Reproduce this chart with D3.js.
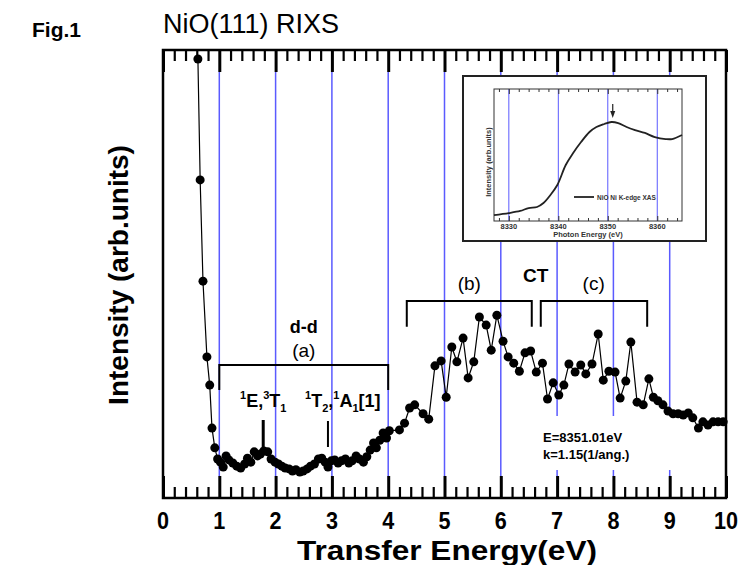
<!DOCTYPE html>
<html>
<head>
<meta charset="utf-8">
<script src="https://cdn.jsdelivr.net/npm/d3@7"></script>
<style>
  body { margin: 0; background: #fff; }
  text { font-family: "Liberation Sans", Arial, sans-serif; }
</style>
</head>
<body>
<div id="chart"></div>
<script>
// RIXS spectrum, transfer energy (eV) vs intensity (arb. units)
var energy = [0.62, 0.66, 0.71, 0.78, 0.83, 0.87, 0.92, 0.97, 1.02, 1.07, 1.12, 1.17, 1.24, 1.31, 1.38, 1.45, 1.50, 1.56, 1.62, 1.68,
    1.73, 1.79, 1.86, 1.92, 1.99, 2.05, 2.11, 2.17, 2.24, 2.30, 2.36, 2.43, 2.49, 2.56, 2.62, 2.69, 2.76, 2.82, 2.88, 2.93,
    2.99, 3.05, 3.11, 3.17, 3.24, 3.30, 3.36, 3.43, 3.49, 3.56, 3.62, 3.68, 3.74, 3.79, 3.85, 3.91, 3.97, 4.02, 4.20, 4.29,
    4.38, 4.47, 4.62, 4.72, 4.83, 4.94, 5.03, 5.13, 5.22, 5.33, 5.42, 5.52, 5.62, 5.74, 5.83, 5.93, 6.04, 6.13, 6.23, 6.33,
    6.43, 6.53, 6.63, 6.74, 6.83, 6.93, 7.03, 7.12, 7.21, 7.32, 7.42, 7.51, 7.62, 7.73, 7.82, 7.92, 8.03, 8.12, 8.22, 8.31,
    8.42, 8.53, 8.63, 8.71, 8.79, 8.88, 8.97, 9.06, 9.15, 9.24, 9.33, 9.41, 9.51, 9.59, 9.68, 9.77, 9.86, 9.95];
var intensity = [98.0, 71.0, 48.4, 31.5, 25.2, 15.6, 11.2, 8.7, 8.0, 6.9, 9.4, 8.5, 7.8, 7.1, 6.7, 7.6, 8.9, 8.0, 10.3, 9.4,
    9.8, 10.5, 10.3, 8.7, 8.0, 7.6, 7.1, 6.7, 6.5, 6.0, 6.3, 5.8, 6.0, 6.5, 7.1, 7.6, 8.7, 8.9, 8.0, 6.9,
    8.3, 8.5, 7.8, 8.3, 8.7, 7.8, 8.3, 9.4, 8.7, 8.0, 9.2, 10.7, 12.3, 11.2, 12.9, 14.5, 13.4, 15.0, 15.2, 16.7,
    20.1, 20.8, 18.8, 17.6, 29.5, 30.6, 22.5, 33.7, 30.4, 35.7, 26.8, 30.4, 40.4, 38.6, 33.0, 40.8, 35.0, 31.5, 30.1, 28.3,
    32.4, 32.8, 28.1, 30.1, 22.1, 25.7, 23.0, 25.2, 29.9, 28.1, 29.7, 27.7, 29.9, 36.6, 26.3, 28.3, 28.1, 22.3, 26.1, 34.8,
    21.4, 20.8, 26.6, 22.5, 21.7, 20.8, 19.4, 18.8, 18.8, 18.5, 19.0, 17.9, 15.6, 17.0, 16.3, 17.0, 17.0, 17.0];
var xTickValues = [0, 1, 2, 3, 4, 5, 6, 7, 8, 9, 10];
var gridLines = [1, 2, 3, 4, 5, 6, 7, 8, 9];

// inset: Ni K-edge XAS
var photonEnergy = [8327, 8330, 8332.3, 8334, 8335.7, 8337, 8338.4, 8339.8, 8341.5, 8343, 8344.6, 8346.3, 8347.7,
    8349.3, 8350.7, 8352.1, 8353.8, 8355.5, 8357.5, 8359.5, 8361.7, 8363, 8365];
var xasIntensity = [0.045, 0.06, 0.076, 0.098, 0.106, 0.136, 0.197, 0.273, 0.424, 0.515, 0.598, 0.674, 0.712,
    0.735, 0.75, 0.742, 0.712, 0.689, 0.667, 0.636, 0.621, 0.621, 0.652];
var insetTicks = [8330, 8340, 8350, 8360];

var W = 740, H = 565;
var frame = { left: 163, right: 726, top: 50, bottom: 498 };
var blue = "#5a5aff";

var svg = d3.select("#chart").append("svg")
    .attr("width", W)
    .attr("height", H);

var x = d3.scaleLinear().domain([0, 10]).range([frame.left, frame.right]);
var y = d3.scaleLinear().domain([0, 100]).range([frame.bottom, frame.top]);

// blue guide lines
svg.append("g").selectAll("line")
    .data(gridLines)
    .enter().append("line")
    .attr("x1", d => x(d)).attr("x2", d => x(d))
    .attr("y1", frame.top + 22).attr("y2", frame.bottom - 22)
    .attr("stroke", blue).attr("stroke-width", 1.5);

// white box behind the E/k note
svg.append("rect")
    .attr("x", x(6.6)).attr("y", 416)
    .attr("width", x(9.5) - x(6.6)).attr("height", 54)
    .attr("fill", "#fff");

// ticks top and bottom, pointing inward
var minorVals = d3.range(0, 10.001, 0.2).filter(d => Math.abs(d - Math.round(d)) > 0.01);
function tickAxes(axisFn, ypos) {
    var gMaj = svg.append("g")
        .attr("transform", "translate(0," + ypos + ")")
        .call(axisFn(x).tickValues(xTickValues).tickSize(-22).tickFormat(""));
    var gMin = svg.append("g")
        .attr("transform", "translate(0," + ypos + ")")
        .call(axisFn(x).tickValues(minorVals).tickSize(-11).tickFormat(""));
    [gMaj, gMin].forEach(function (g) {
        g.select(".domain").remove();
        g.selectAll("line").attr("stroke", "#000");
    });
    gMaj.selectAll("line").attr("stroke-width", 3);
    gMin.selectAll("line").attr("stroke-width", 2.2);
}
tickAxes(d3.axisTop, frame.top);
tickAxes(d3.axisBottom, frame.bottom);

// frame
svg.append("rect")
    .attr("x", frame.left).attr("y", frame.top)
    .attr("width", frame.right - frame.left).attr("height", frame.bottom - frame.top)
    .attr("fill", "none").attr("stroke", "#000").attr("stroke-width", 2.5);

// x tick labels (narrow, tall digits)
svg.append("g").selectAll("text")
    .data(xTickValues)
    .enter().append("text")
    .attr("transform", d => "translate(" + x(d) + ",529) scale(0.9,1)")
    .attr("text-anchor", "middle")
    .attr("font-size", 24).attr("font-weight", "bold")
    .text(d => d);

svg.append("text")
    .attr("x", 447).attr("y", 560)
    .attr("text-anchor", "middle")
    .attr("font-size", 27).attr("font-weight", "bold")
    .attr("textLength", 300).attr("lengthAdjust", "spacingAndGlyphs")
    .text("Transfer Energy(eV)");

svg.append("text")
    .attr("transform", "translate(128,275) rotate(-90)")
    .attr("text-anchor", "middle")
    .attr("font-size", 28).attr("font-weight", "bold")
    .text("Intensity (arb.units)");

svg.append("text")
    .attr("x", 32).attr("y", 37)
    .attr("font-size", 21).attr("font-weight", "bold")
    .text("Fig.1");
svg.append("text")
    .attr("x", 163).attr("y", 33)
    .attr("font-size", 27)
    .text("NiO(111) RIXS");

// brackets
function bracket(x0, x1, yTop, yLeg) {
    svg.append("path")
        .attr("d", "M" + x(x0) + "," + y(yLeg) + "V" + y(yTop) + "H" + x(x1) + "V" + y(yLeg))
        .attr("fill", "none").attr("stroke", "#000").attr("stroke-width", 2);
}
bracket(1, 4, 29.7, 24.1);
bracket(4.33, 6.55, 44.0, 38.2);
bracket(6.71, 8.6, 44.0, 38.2);

function label(t, px, py, size, bold) {
    svg.append("text")
        .attr("x", px).attr("y", py)
        .attr("text-anchor", "middle")
        .attr("font-size", size)
        .attr("font-weight", bold ? "bold" : "normal")
        .text(t);
}
label("d-d", x(2.5), 333, 18, true);
label("(a)", x(2.5), 357, 19, false);
label("(b)", x(5.44), 290, 19, false);
label("(c)", x(7.65), 290, 19, false);
label("CT", x(6.62), 282, 19, true);

// term labels with super/subscripts
function termLabel(parts, px, py) {
    var t = svg.append("text")
        .attr("x", px).attr("y", py)
        .attr("font-size", 18).attr("font-weight", "bold");
    parts.forEach(function (p) {
        var s = t.append("tspan").text(p[0]);
        if (p[1] === "sup") s.attr("font-size", 11).attr("dy", -8);
        if (p[1] === "sub") s.attr("font-size", 11).attr("dy", 5);
        if (p[1] === "after-sup") s.attr("dy", 8);
        if (p[1] === "after-sub") s.attr("dy", -5);
    });
}
termLabel([["1", "sup"], ["E,", "after-sup"], ["3", "sup"], ["T", "after-sup"], ["1", "sub"]], 240, 407);
termLabel([["1", "sup"], ["T", "after-sup"], ["2", "sub"], [",", "after-sub"], ["1", "sup"], ["A", "after-sup"], ["1", "sub"], ["[1]", "after-sub"]], 305, 407);

svg.append("line")
    .attr("x1", x(1.78)).attr("x2", x(1.78)).attr("y1", 420).attr("y2", 447)
    .attr("stroke", "#000").attr("stroke-width", 3);
svg.append("line")
    .attr("x1", x(2.93)).attr("x2", x(2.93)).attr("y1", 421).attr("y2", 447)
    .attr("stroke", "#000").attr("stroke-width", 2);

svg.append("text").attr("x", 543).attr("y", 442)
    .attr("font-size", 13).attr("font-weight", "bold").text("E=8351.01eV");
svg.append("text").attr("x", 543).attr("y", 459)
    .attr("font-size", 13).attr("font-weight", "bold").text("k=1.15(1/ang.)");

// data
var pts = energy.map((e, i) => ({ e: e, v: intensity[i] }));
svg.append("path")
    .datum(pts)
    .attr("d", d3.line().x(d => x(d.e)).y(d => y(d.v)))
    .attr("fill", "none").attr("stroke", "#000").attr("stroke-width", 1.2);
svg.append("g").selectAll("circle")
    .data(pts)
    .enter().append("circle")
    .attr("cx", d => x(d.e)).attr("cy", d => y(d.v))
    .attr("r", 4.5).attr("fill", "#000");

// ---- inset ----
var inset = svg.append("g");
inset.append("rect")
    .attr("x", 463).attr("y", 76).attr("width", 243).attr("height", 165)
    .attr("fill", "#fff").attr("stroke", "#222").attr("stroke-width", 2);

var xi = d3.scaleLinear().domain([8327, 8365]).range([494, 682]);
var yi = d3.scaleLinear().domain([0, 1]).range([221, 89]);

inset.append("g").selectAll("line")
    .data(insetTicks)
    .enter().append("line")
    .attr("x1", d => xi(d)).attr("x2", d => xi(d))
    .attr("y1", 89).attr("y2", 221)
    .attr("stroke", blue).attr("stroke-width", 1);

var insetMinor = d3.range(8328, 8365, 2).filter(d => d % 10 !== 0);
[[d3.axisTop, 89], [d3.axisBottom, 221]].forEach(function (a) {
    var g1 = inset.append("g").attr("transform", "translate(0," + a[1] + ")")
        .call(a[0](xi).tickValues(insetTicks).tickSize(-5).tickFormat(""));
    var g2 = inset.append("g").attr("transform", "translate(0," + a[1] + ")")
        .call(a[0](xi).tickValues(insetMinor).tickSize(-3).tickFormat(""));
    [g1, g2].forEach(function (g) {
        g.select(".domain").remove();
        g.selectAll("line").attr("stroke", "#333").attr("stroke-width", 1);
    });
});

inset.append("rect")
    .attr("x", 494).attr("y", 89).attr("width", 188).attr("height", 132)
    .attr("fill", "none").attr("stroke", "#333").attr("stroke-width", 1);

inset.append("g").selectAll("text")
    .data(insetTicks)
    .enter().append("text")
    .attr("x", d => xi(d)).attr("y", 229)
    .attr("text-anchor", "middle")
    .attr("font-size", 7.5).attr("font-weight", "bold").attr("fill", "#333")
    .text(d => d);
inset.append("text")
    .attr("x", 588).attr("y", 237)
    .attr("text-anchor", "middle")
    .attr("font-size", 7.5).attr("font-weight", "bold").attr("fill", "#333")
    .text("Photon Energy (eV)");
inset.append("text")
    .attr("transform", "translate(491,162) rotate(-90)")
    .attr("text-anchor", "middle")
    .attr("font-size", 7.5).attr("font-weight", "bold").attr("fill", "#333")
    .text("Intensity (arb.units)");

var xasPts = photonEnergy.map((e, i) => ({ e: e, v: xasIntensity[i] }));
inset.append("path")
    .datum(xasPts)
    .attr("d", d3.line().x(d => xi(d.e)).y(d => yi(d.v)).curve(d3.curveCatmullRom.alpha(0.5)))
    .attr("fill", "none").attr("stroke", "#222").attr("stroke-width", 1.8);

// arrow at the excitation energy
inset.append("line")
    .attr("x1", xi(8351)).attr("x2", xi(8351)).attr("y1", 104).attr("y2", 112)
    .attr("stroke", "#222").attr("stroke-width", 1.2);
inset.append("path")
    .attr("d", "M" + (xi(8351) - 2.5) + ",111L" + (xi(8351) + 2.5) + ",111L" + xi(8351) + ",118Z")
    .attr("fill", "#222");

// legend
inset.append("line")
    .attr("x1", 574).attr("x2", 594).attr("y1", 197).attr("y2", 197)
    .attr("stroke", "#222").attr("stroke-width", 1.8);
inset.append("text")
    .attr("x", 597).attr("y", 199.5)
    .attr("font-size", 6.5).attr("font-weight", "bold").attr("fill", "#333")
    .text("NiO Ni K-edge XAS");
</script>
</body>
</html>
